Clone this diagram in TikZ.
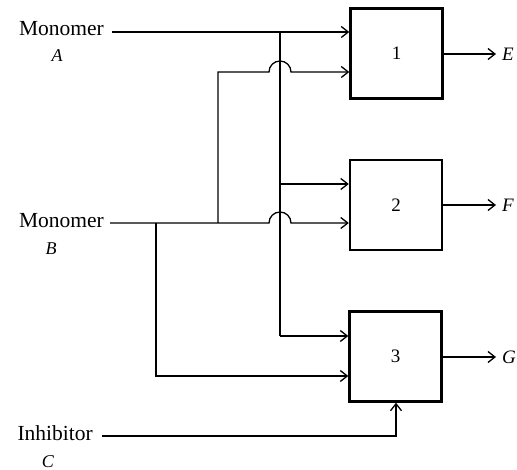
\documentclass[tikz,border=0pt]{standalone}
\usepackage{fontspec}
\setmainfont{Liberation Serif}
\usetikzlibrary{arrows.meta}
\begin{document}
\begin{tikzpicture}[x=1pt,y=-1pt,
  unit/.style={draw,line width=2.4pt,minimum width=92pt,minimum height=90pt,inner sep=0pt,font=\fontsize{19}{22}\selectfont},
  conn/.style={line width=1.3pt},
  arr/.style={conn,-{Straight Barb[length=7pt,width=11pt,line width=1.3pt]}},
  lbl/.style={inner sep=0pt,font=\fontsize{21.5}{24}\selectfont},
  sym/.style={inner sep=0pt,font=\fontsize{18}{21}\selectfont\itshape},
  osym/.style={inner sep=0pt,font=\fontsize{19}{22}\selectfont\itshape,anchor=west}]
\useasboundingbox (0,0) rectangle (517,470);
% units
\node[unit] (b1) at (396.5,53.5) {1};
\node[unit] (b2) at (396,205) {2};
\node[unit] (b3) at (395.5,356.5) {3};
% labels
\node[lbl,anchor=base east] (mA) at (104,36) {Monomer};
\node[sym,anchor=base] (lA) at (57,62) {A};
\node[lbl,anchor=base east] (mB) at (104,228) {Monomer};
\node[sym,anchor=base] (lB) at (51,255) {B};
\node[lbl,anchor=base east] (iC) at (93,440) {Inhibitor};
\node[sym,anchor=base] (lC) at (48,467) {C};
% outputs
\node[osym] (E) at (502,54) {E};
\node[osym] (F) at (502,205) {F};
\node[osym] (G) at (502,357) {G};
% coordinates
\coordinate (a0) at (112,32);
\coordinate (ja) at (280,32);
\coordinate (b0) at (110,223);
\coordinate (jb1) at (218,223);
\coordinate (jb2) at (156,223);
\coordinate (c0) at (102,436);
\coordinate (cc) at (396,436);
% Monomer A
\draw[arr] (a0) -- (a0 -| b1.west);
\draw[conn] (ja) -- (280,336);
\draw[arr] (280,336) -- (b3.west |- 0,336);
\draw[arr] (280,184) -- (b2.west |- 0,184);
% Monomer B
\draw[arr] (b0) -- (269,223) arc[start angle=180,end angle=0,radius=11pt] -- (b2.west |- 0,223);
\draw[arr] (jb1) -- (218,72) -- (269,72) arc[start angle=180,end angle=0,radius=11pt] -- (b1.west |- 0,72);
\draw[arr] (jb2) -- (156,376) -- (b3.west |- 0,376);
% Inhibitor
\draw[arr] (c0) -- (cc) -- (b3.south -| cc);
% outputs
\draw[arr,shorten >=6pt] (b1.east |- E) -- (E.west);
\draw[arr,shorten >=6pt] (b2.east |- F) -- (F.west);
\draw[arr,shorten >=6pt] (b3.east |- G) -- (G.west);
\end{tikzpicture}
\end{document}
